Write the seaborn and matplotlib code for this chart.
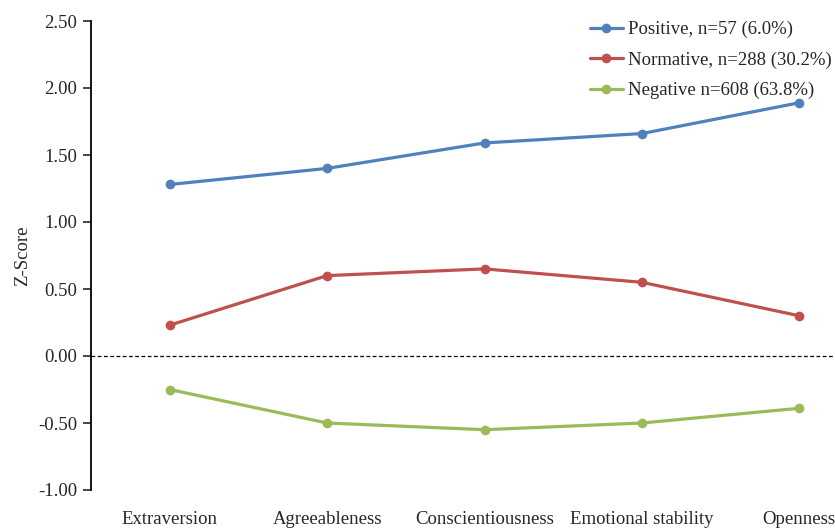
import pandas as pd
import seaborn as sns
import matplotlib.pyplot as plt
from matplotlib.ticker import FormatStrFormatter

# data
traits = ['Extraversion', 'Agreeableness', 'Conscientiousness', 'Emotional stability', 'Openness']
positive = [1.28, 1.40, 1.59, 1.66, 1.89]
normative = [0.23, 0.60, 0.65, 0.55, 0.30]
negative = [-0.25, -0.50, -0.55, -0.50, -0.39]
group_names = ['Positive, n=57 (6.0%)', 'Normative, n=288 (30.2%)', 'Negative n=608 (63.8%)']
colors = ['#4F81BD', '#C0504D', '#9BBB59']

rows = []
for name, vals in zip(group_names, [positive, normative, negative]):
    for t, v in zip(traits, vals):
        rows.append({'trait': t, 'z': v, 'group': name})
df = pd.DataFrame(rows)

sns.set_style('white')
plt.rcParams['font.family'] = ['Liberation Serif', 'DejaVu Serif']
plt.rcParams['axes.unicode_minus'] = False
fs = 13.5

fig = plt.figure(figsize=(8.35, 5.29), dpi=100)
# axes runs a bit past the right edge, like the cropped original
ax = fig.add_axes([91 / 835, 1 - 490 / 529, 787 / 835, 469 / 529])

sns.lineplot(data=df, x='trait', y='z', hue='group', hue_order=group_names,
             palette=colors, marker='o', markersize=7, markeredgewidth=0,
             linewidth=2.3, sort=False, ax=ax)

ax.axhline(0, color='black', linestyle=(0, (3, 2)), linewidth=0.9, zorder=0)

ax.set_xlim(-0.5, 4.5)
ax.set_ylim(-1.0, 2.5)
ax.set_yticks([-1.0, -0.5, 0.0, 0.5, 1.0, 1.5, 2.0, 2.5])
ax.yaxis.set_major_formatter(FormatStrFormatter('%.2f'))
ax.tick_params(axis='y', direction='out', length=6, width=1.2, left=True, labelsize=fs, pad=4)
ax.tick_params(axis='x', length=0, labelsize=fs, pad=15)
ax.set_xlabel('')
ax.set_ylabel('Z-Score', fontsize=fs, labelpad=5)

for s in ['top', 'right', 'bottom']:
    ax.spines[s].set_visible(False)
ax.spines['left'].set_color('black')
ax.spines['left'].set_linewidth(1.3)

handles, labels = ax.get_legend_handles_labels()
ax.get_legend().remove()
fig.legend(handles, labels, loc='upper left', bbox_to_anchor=(590 / 835, 1 - 21 / 529),
           frameon=False, fontsize=fs, handlelength=1.75, labelspacing=0.7,
           handletextpad=0.3, borderpad=0, borderaxespad=0)

fig.savefig('out.png', dpi=100)
